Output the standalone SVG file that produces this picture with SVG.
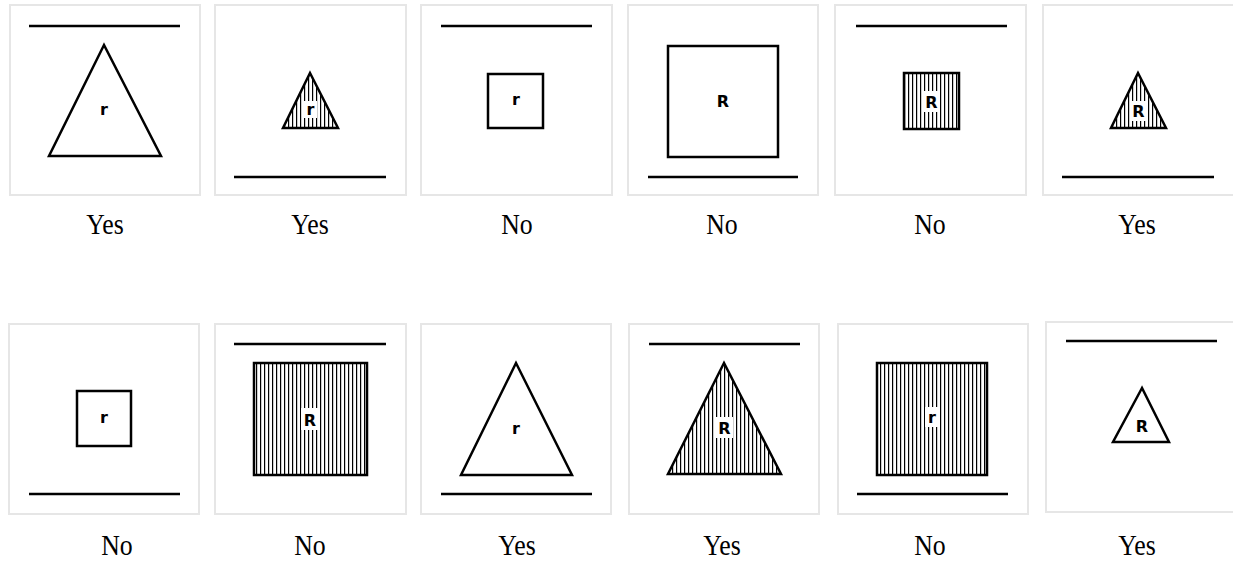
<svg xmlns="http://www.w3.org/2000/svg" width="1233" height="561" viewBox="0 0 1233 561">
<defs>
<pattern id="hatch" patternUnits="userSpaceOnUse" x="0" y="0" width="4" height="4">
<rect x="0" y="0" width="1.2" height="4" fill="#000"/>
</pattern>
</defs>
<style>
.panel{fill:#fff;stroke:#e6e6e6;stroke-width:2}
.bar{stroke:#000;stroke-width:2.5;fill:none}
.shape{stroke:#000;stroke-width:2.5;fill:#fff;stroke-linejoin:miter}
.hatched{stroke:#000;stroke-width:2.5;fill:url(#hatch)}
.lbl{font-family:"DejaVu Sans",sans-serif;font-weight:bold;font-size:16px;text-anchor:middle;fill:#000}
.bg{fill:#fff}
.ans{font-family:"Liberation Serif","Times New Roman",serif;font-size:30px;text-anchor:middle;fill:#000}
</style>
<rect width="1233" height="561" fill="#fff"/>

<g id="p1">
<rect class="panel" x="10" y="5" width="190" height="190"/>
<line class="bar" x1="29" y1="26" x2="180" y2="26"/>
<polygon class="shape" points="104,45 49,156 161,156"/>
<text class="lbl" x="104" y="115">r</text>
<text class="ans" transform="translate(105,234) scale(0.86,1)">Yes</text>
</g>
<g id="p2">
<rect class="panel" x="215" y="5" width="191" height="190"/>
<polygon class="hatched" points="310,73 283,128 338,128"/>
<rect class="bg" x="303" y="101" width="14" height="17"/>
<text class="lbl" x="310.5" y="115">r</text>
<line class="bar" x1="234" y1="177" x2="386" y2="177"/>
<text class="ans" transform="translate(310,234) scale(0.86,1)">Yes</text>
</g>
<g id="p3">
<rect class="panel" x="421" y="5" width="191" height="190"/>
<line class="bar" x1="441" y1="26" x2="592" y2="26"/>
<rect class="shape" x="488" y="74" width="55" height="54"/>
<text class="lbl" x="516" y="105">r</text>
<text class="ans" transform="translate(517,234) scale(0.86,1)">No</text>
</g>
<g id="p4">
<rect class="panel" x="628" y="5" width="190" height="190"/>
<rect class="shape" x="668" y="46" width="110" height="111"/>
<text class="lbl" x="723" y="107">R</text>
<line class="bar" x1="648" y1="177" x2="798" y2="177"/>
<text class="ans" transform="translate(722,234) scale(0.86,1)">No</text>
</g>
<g id="p5">
<rect class="panel" x="835" y="5" width="191" height="190"/>
<line class="bar" x1="856" y1="26" x2="1007" y2="26"/>
<rect class="hatched" x="904" y="73" width="55" height="56"/>
<rect class="bg" x="923" y="91" width="17" height="21"/>
<text class="lbl" x="931.5" y="108">R</text>
<text class="ans" transform="translate(930,234) scale(0.86,1)">No</text>
</g>
<g id="p6">
<rect class="panel" x="1043" y="5" width="200" height="190"/>
<polygon class="hatched" points="1138,73 1111,128 1166,128"/>
<rect class="bg" x="1130" y="101" width="17" height="20"/>
<text class="lbl" x="1138.5" y="117">R</text>
<line class="bar" x1="1062" y1="177" x2="1214" y2="177"/>
<text class="ans" transform="translate(1137,234) scale(0.86,1)">Yes</text>
</g>

<g id="p7">
<rect class="panel" x="9" y="324" width="190" height="190"/>
<rect class="shape" x="77" y="391" width="54" height="55"/>
<text class="lbl" x="104" y="423">r</text>
<line class="bar" x1="29" y1="494" x2="180" y2="494"/>
<text class="ans" transform="translate(117,555) scale(0.86,1)">No</text>
</g>
<g id="p8">
<rect class="panel" x="215" y="324" width="191" height="190"/>
<line class="bar" x1="234" y1="344" x2="386" y2="344"/>
<rect class="hatched" x="254" y="363" width="113" height="112"/>
<rect class="bg" x="301" y="408" width="18" height="22"/>
<text class="lbl" x="310" y="426">R</text>
<text class="ans" transform="translate(310,555) scale(0.86,1)">No</text>
</g>
<g id="p9">
<rect class="panel" x="421" y="324" width="190" height="190"/>
<polygon class="shape" points="516,363 461,475 572,475"/>
<text class="lbl" x="516" y="434">r</text>
<line class="bar" x1="441" y1="494" x2="592" y2="494"/>
<text class="ans" transform="translate(517,555) scale(0.86,1)">Yes</text>
</g>
<g id="p10">
<rect class="panel" x="629" y="324" width="190" height="190"/>
<line class="bar" x1="649" y1="344" x2="800" y2="344"/>
<polygon class="hatched" points="724,363 668,474 781,474"/>
<rect class="bg" x="715" y="417" width="18" height="21"/>
<text class="lbl" x="724.5" y="434">R</text>
<text class="ans" transform="translate(722,555) scale(0.86,1)">Yes</text>
</g>
<g id="p11">
<rect class="panel" x="838" y="324" width="190" height="190"/>
<rect class="hatched" x="877" y="363" width="110" height="112"/>
<rect class="bg" x="925" y="407" width="14" height="20"/>
<text class="lbl" x="932" y="423">r</text>
<line class="bar" x1="857" y1="494" x2="1008" y2="494"/>
<text class="ans" transform="translate(930,555) scale(0.86,1)">No</text>
</g>
<g id="p12">
<rect class="panel" x="1046" y="322" width="200" height="190"/>
<line class="bar" x1="1066" y1="341" x2="1217" y2="341"/>
<polygon class="shape" points="1142,388 1113,442 1169,442"/>
<text class="lbl" x="1142" y="432">R</text>
<text class="ans" transform="translate(1137,555) scale(0.86,1)">Yes</text>
</g>
<g id="connectors"/>
</svg>
